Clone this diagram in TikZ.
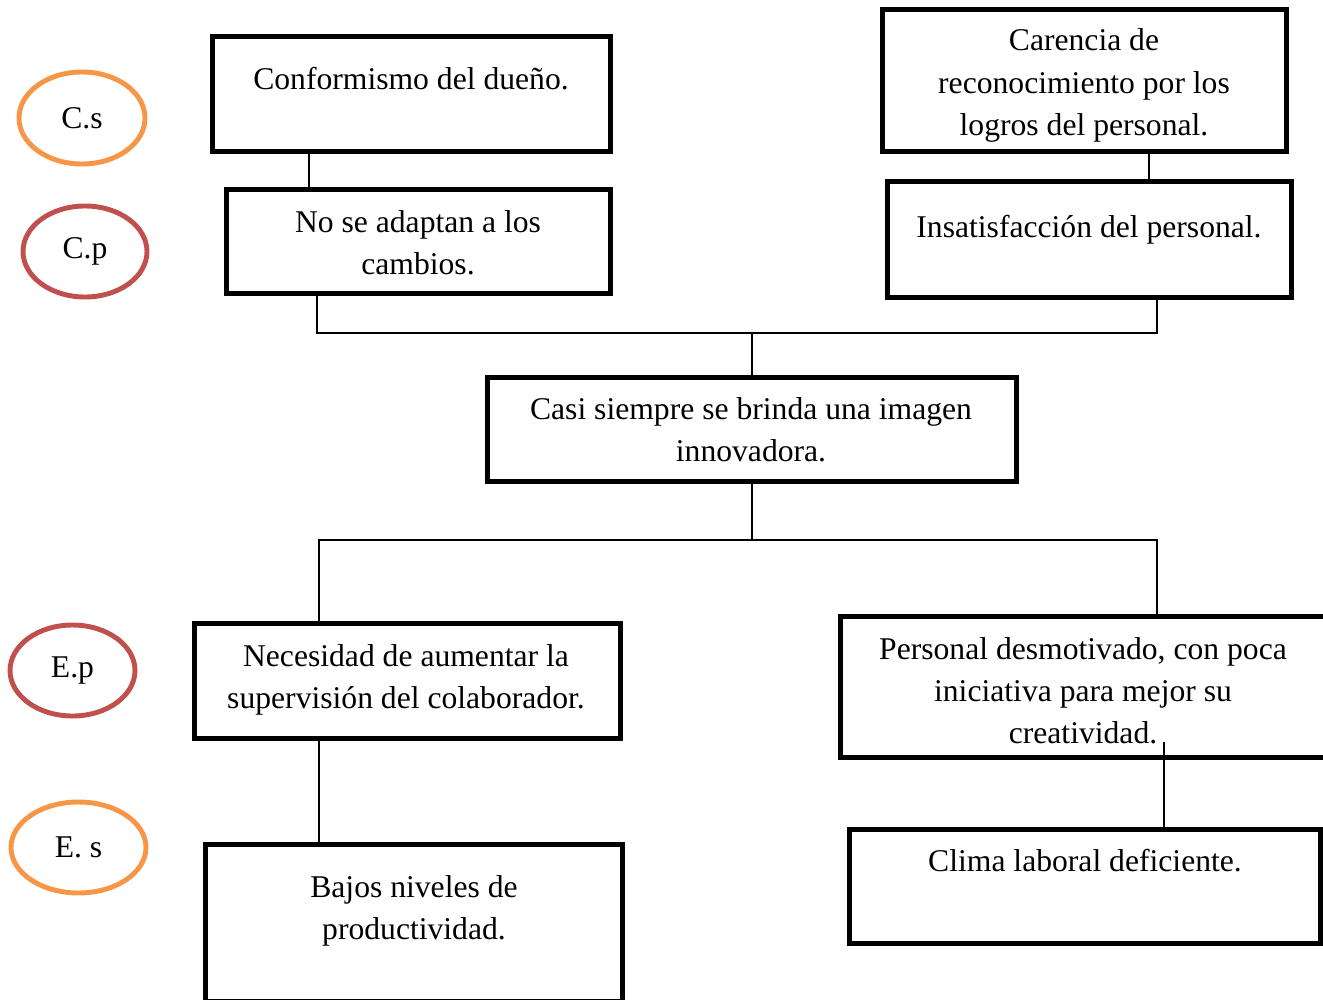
\documentclass[tikz,border=0pt]{standalone}
\usepackage{fontspec}
\setmainfont{Liberation Serif}
\usepackage{xcolor}
\usepackage{tikz}
\usetikzlibrary{shapes.geometric}

\definecolor{naranja}{HTML}{F79646}
\definecolor{rojo}{HTML}{C0504D}

\begin{document}
\begin{tikzpicture}[
  caja/.style={rectangle,draw,line width=2.3pt},
  texto/.style={align=center,font=\fontsize{18}{24}\selectfont},
  nivel/.style={ellipse,draw,line width=2.8pt,font=\fontsize{18}{24}\selectfont},
  link/.style={line width=1.1pt}]

\useasboundingbox (0,0) rectangle (26.46,-20);
\clip (0,0) rectangle (26.46,-20);

% niveles
\node[nivel,draw=naranja,minimum width=2.52cm,minimum height=1.84cm] (cs) at (1.64,-2.36) {C.s};
\node[nivel,draw=rojo,minimum width=2.48cm,minimum height=1.82cm] (cp) at (1.70,-5.03) {C.p};
\node[nivel,draw=rojo,minimum width=2.50cm,minimum height=1.82cm] (ep) at (1.45,-13.41) {E.p};
\node[nivel,draw=naranja,minimum width=2.70cm,minimum height=1.82cm] (es) at (1.57,-16.95) {E. s};

% cajas
\node[caja,minimum width=7.96cm,minimum height=2.30cm] (conf) at (8.23,-1.88) {};
\node[texto] at (8.22,-1.58) {Conformismo del dueño.};

\node[caja,minimum width=8.08cm,minimum height=2.84cm] (caren) at (21.69,-1.61) {};
\node[texto] at (21.68,-1.71) {Carencia de\\reconocimiento por los\\logros del personal.};

\node[caja,minimum width=7.68cm,minimum height=2.08cm] (adapt) at (8.37,-4.83) {};
\node[texto] at (8.36,-4.86) {No se adaptan a los\\cambios.};

\node[caja,minimum width=8.08cm,minimum height=2.32cm] (insat) at (21.79,-4.79) {};
\node[texto] at (21.78,-4.60) {Insatisfacción del personal.};

\node[caja,minimum width=10.58cm,minimum height=2.08cm] (casi) at (15.04,-8.59) {};
\node[texto] at (15.02,-8.6) {Casi siempre se brinda una imagen\\innovadora.};

\node[caja,minimum width=8.52cm,minimum height=2.30cm] (neces) at (8.15,-13.62) {};
\node[texto] at (8.12,-13.60) {Necesidad de aumentar la\\supervisión del colaborador.};

\node[caja,minimum width=9.98cm,minimum height=2.82cm] (person) at (21.8,-13.74) {};
\node[texto] at (21.66,-13.81) {Personal desmotivado, con poca\\iniciativa para mejor su\\creatividad.};

\node[caja,minimum width=8.34cm,minimum height=3.14cm] (bajos) at (8.28,-18.46) {};
\node[texto] at (8.28,-18.22) {Bajos niveles de\\productividad.};

\node[caja,minimum width=9.42cm,minimum height=2.28cm] (clima) at (21.7,-17.73) {};
\node[texto] at (21.7,-17.21) {Clima laboral deficiente.};

% uniones
\coordinate (arriba) at (15.04,-6.66);
\coordinate (abajo) at (15.04,-10.8);
\coordinate (cola) at (23.28,-14.84);

\draw[link] (6.18,0 |- conf.south) -- (6.18,0 |- adapt.north);
\draw[link] (22.98,0 |- caren.south) -- (22.98,0 |- insat.north);
\draw[link] (6.34,0 |- adapt.south) |- (arriba) -| (23.14,0 |- insat.south);
\draw[link] (arriba) -- (casi.north);
\draw[link] (casi.south) -- (abajo);
\draw[link] (6.38,0 |- neces.north) |- (abajo) -| (23.14,0 |- person.north);
\draw[link] (6.38,0 |- neces.south) -- (6.38,0 |- bajos.north);
\draw[link] (cola) -- (cola |- clima.north);

\end{tikzpicture}
\end{document}
